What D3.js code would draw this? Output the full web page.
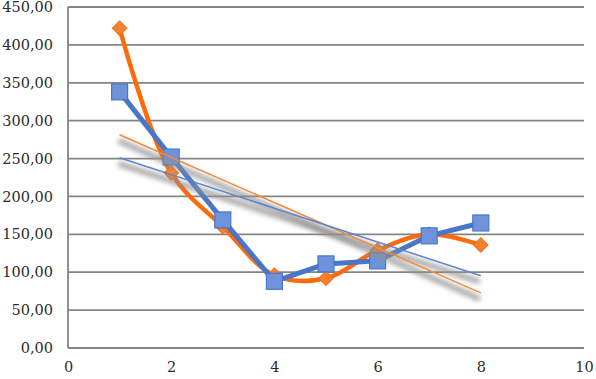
<!DOCTYPE html>
<html>
<head>
<meta charset="utf-8">
<script src="https://cdn.jsdelivr.net/npm/d3@7/dist/d3.min.js"></script>
<style>
  body { margin: 0; background: #fff; }
  svg { display: block; }
  .tick text { font-family: "DejaVu Serif", serif; font-size: 14.5px; fill: #2b2b2b; }
</style>
</head>
<body>
<svg id="chart" width="596" height="379"></svg>
<script>
const xValues = [1, 2, 3, 4, 5, 6, 7, 8];
const orangeValues = [422, 231, 160, 96, 92, 129, 150, 136];
const blueValues = [338, 252, 169, 88, 111, 115, 148, 165];
const yTicks = [0, 50, 100, 150, 200, 250, 300, 350, 400, 450];
const xTicks = [0, 2, 4, 6, 8, 10];

const width = 596;
const height = 379;
const margin = { top: 7, right: 12, bottom: 31, left: 68 };

const orange = "#ff6a0a";
const orangeMarker = "#f7812f";
const blue = "#4a76c9";
const blueMarker = "#6e93da";

const svg = d3.select("#chart");

const x = d3.scaleLinear().domain([0, 10]).range([margin.left, width - margin.right]);
const y = d3.scaleLinear().domain([0, 450]).range([height - margin.bottom, margin.top]);

// shadow for trendlines
const defs = svg.append("defs");
const f = defs.append("filter").attr("id", "shadow")
  .attr("x", "-10%").attr("y", "-50%").attr("width", "120%").attr("height", "200%");
f.append("feGaussianBlur").attr("stdDeviation", 2.5);

// gridlines
svg.append("g")
  .selectAll("line")
  .data(yTicks)
  .join("line")
  .attr("x1", x(0))
  .attr("x2", x(10))
  .attr("y1", d => y(d))
  .attr("y2", d => y(d))
  .attr("stroke", "#858585")
  .attr("stroke-width", 1.8);

// left axis line
svg.append("line")
  .attr("x1", x(0)).attr("x2", x(0))
  .attr("y1", y(450)).attr("y2", y(0))
  .attr("stroke", "#858585")
  .attr("stroke-width", 1.8);

const fmt = d => d3.format(".2f")(d).replace(".", ",");

const yAxis = d3.axisLeft(y).tickValues(yTicks).tickFormat(fmt).tickSize(0).tickPadding(15);
svg.append("g").attr("transform", `translate(${x(0)},0)`).call(yAxis)
  .call(g => g.select(".domain").remove());

const xAxis = d3.axisBottom(x).tickValues(xTicks).tickFormat(d3.format("d")).tickSize(0).tickPadding(14);
svg.append("g").attr("transform", `translate(0,${y(0)})`).call(xAxis)
  .call(g => g.select(".domain").remove());

const pts = vals => xValues.map((d, i) => [d, vals[i]]);

// orange series (smoothed)
const smooth = d3.line().x(d => x(d[0])).y(d => y(d[1])).curve(d3.curveCatmullRom.alpha(0.5));
svg.append("path")
  .attr("d", smooth(pts(orangeValues)))
  .attr("fill", "none")
  .attr("stroke", orange)
  .attr("stroke-width", 4.5)
  .attr("stroke-linejoin", "round");

svg.append("g")
  .selectAll("path")
  .data(pts(orangeValues))
  .join("path")
  .attr("d", d3.symbol(d3.symbolSquare, 105))
  .attr("transform", d => `translate(${x(d[0])},${y(d[1])}) rotate(45)`)
  .attr("fill", orangeMarker)
  .attr("stroke", "#f0701c")
  .attr("stroke-width", 1);

// blue series (straight)
const straight = d3.line().x(d => x(d[0])).y(d => y(d[1]));
svg.append("path")
  .attr("d", straight(pts(blueValues)))
  .attr("fill", "none")
  .attr("stroke", blue)
  .attr("stroke-width", 5)
  .attr("stroke-linejoin", "round");

svg.append("g")
  .selectAll("rect")
  .data(pts(blueValues))
  .join("rect")
  .attr("x", d => x(d[0]) - 8)
  .attr("y", d => y(d[1]) - 8)
  .attr("width", 16)
  .attr("height", 16)
  .attr("fill", blueMarker)
  .attr("stroke", blue)
  .attr("stroke-width", 1.2);

// linear trendlines
function trend(vals) {
  const mx = d3.mean(xValues), my = d3.mean(vals);
  const sxy = d3.sum(xValues, (d, i) => (d - mx) * (vals[i] - my));
  const sxx = d3.sum(xValues, d => (d - mx) * (d - mx));
  const b = sxy / sxx, a = my - b * mx;
  const x0 = d3.min(xValues), x1 = d3.max(xValues);
  return [[x0, a + b * x0], [x1, a + b * x1]];
}

[orangeValues, blueValues].forEach(vals => {
  svg.append("path")
    .attr("d", straight(trend(vals)))
    .attr("transform", "translate(-1,6)")
    .attr("fill", "none")
    .attr("stroke", "#8f8f8f")
    .attr("stroke-opacity", 0.8)
    .attr("stroke-width", 5.5)
    .attr("filter", "url(#shadow)");
});

[[orangeValues, "#f7893a"], [blueValues, "#5b86d2"]].forEach(([vals, c]) => {
  svg.append("path")
    .attr("d", straight(trend(vals)))
    .attr("fill", "none")
    .attr("stroke", c)
    .attr("stroke-width", 1.5);
});
</script>
</body>
</html>
